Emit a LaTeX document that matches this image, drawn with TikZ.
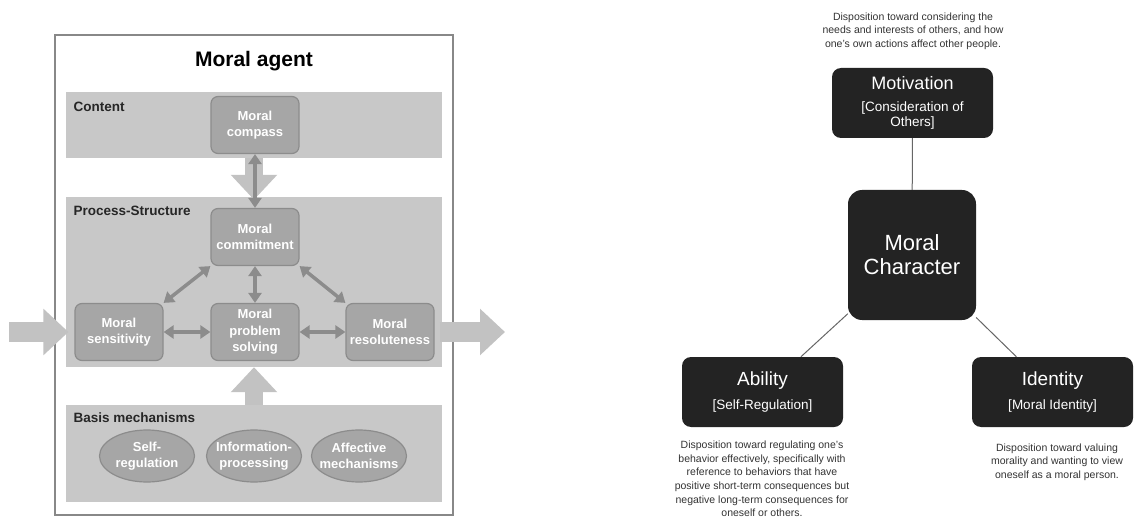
\documentclass[tikz,border=0pt]{standalone}
\usepackage{fontspec}
\setmainfont{Liberation Sans}
\usetikzlibrary{arrows.meta,shapes.geometric}
\definecolor{bandgray}{HTML}{C8C8C8}
\definecolor{boxgray}{HTML}{A6A6A6}
\definecolor{edgegray}{HTML}{8C8C8C}
\definecolor{framegray}{HTML}{888888}
\definecolor{bigarrow}{HTML}{C2C2C2}
\definecolor{darkbox}{HTML}{232323}
\definecolor{desctext}{HTML}{333333}
\tikzset{
  band/.style={fill=bandgray,minimum width=376pt,inner sep=0pt},
  bandlabel/.style={anchor=west,font=\bfseries\fontsize{13.5}{16}\selectfont,text=black!85},
  mbox/.style={draw=edgegray,fill=boxgray,line width=1.2pt,rounded corners=7pt,minimum width=88pt,
    minimum height=57pt,inner sep=1pt,align=center,text=white,font=\bfseries\fontsize{13}{16.5}\selectfont},
  mell/.style={ellipse,draw=edgegray,fill=boxgray,line width=1.2pt,minimum width=95pt,minimum height=52pt,
    inner sep=-9pt,align=center,text=white,font=\bfseries\fontsize{13}{16.5}\selectfont},
  twoway/.style={{Triangle[length=10pt,width=13pt]}-{Triangle[length=10pt,width=13pt]},line width=3.5pt,draw=edgegray},
  bigArrow/.style={-{Triangle[length=25pt,width=45pt]},line width=18pt,draw=bigarrow},
  cbox/.style={fill=darkbox,rounded corners=9pt,text=white,align=center,minimum width=161pt,minimum height=70pt,
    inner sep=0pt,font=\fontsize{13.5}{15}\selectfont},
  desc/.style={align=center,text=desctext,font=\fontsize{10.5}{13.6}\selectfont},
  tie/.style={draw=black!60,line width=1pt}
}

\begin{document}
\begin{tikzpicture}[x=1pt,y=-1pt]
  \useasboundingbox (0,0) rectangle (1139,518);
  % moral agent model
  \node[draw=framegray,line width=2.5pt,minimum width=398pt,minimum height=480pt] (frame) at (254,275) {};
  \node[font=\bfseries\fontsize{21}{24}\selectfont] (title) at (254,61) {Moral agent};
  \node[band,minimum height=66pt] (content) at (254,125) {};
  \node[band,minimum height=170pt] (process) at (254,282) {};
  \node[band,minimum height=97pt] (basis) at (254,453.5) {};
  \node[bandlabel] (lc) at (70,107) {Content};
  \node[bandlabel] (lp) at (70,211) {Process-Structure};
  \node[bandlabel] (lb) at (70,418) {Basis mechanisms};
  \draw[bigArrow] (content.south) -- ([yshift=-3pt]process.north);
  \draw[bigArrow] (basis.north) -- (process.south);
  \node[mbox] (compass) at (255,125) {Moral\\compass};
  \node[mbox] (commit) at (255,237) {Moral\\commitment};
  \node[mbox] (sens) at (119,332) {Moral\\sensitivity};
  \node[mbox] (solve) at (255,332) {Moral\\problem\\solving};
  \node[mbox] (resol) at (390,332) {Moral\\resoluteness};
  \node[mell] (selfreg) at (147,456) {Self-\\regulation};
  \node[mell] (infop) at (254,456) {Information-\\processing};
  \node[mell] (affect) at (359,456) {Affective\\mechanisms};
  \coordinate (in) at (9,332);
  \coordinate (out) at (505,332);
  \draw[bigArrow,line width=20pt] (in) -- ([xshift=-6pt]sens.west);
  \draw[bigArrow,line width=20pt] ([xshift=5pt]resol.east) -- (out);
  \draw[twoway] (compass) -- (commit);
  \draw[twoway] (commit) -- (solve);
  \draw[twoway] (sens.north east) -- (commit.south west);
  \draw[twoway] (commit.south east) -- (resol.north west);
  \draw[twoway] (sens) -- (solve);
  \draw[twoway] (solve) -- (resol);
  % moral character model
  \node[desc] (dmot) at (913,31) {Disposition toward considering the\\needs and interests of others, and how\\one's own actions affect other people.};
  \node[cbox] (mot) at (912.5,103)
    {{\fontsize{18}{20}\selectfont Motivation}\\[7pt][Consideration of\\Others]};
  \node[cbox,minimum width=128pt,minimum height=130pt,rounded corners=14pt,font=\fontsize{22}{24}\selectfont]
    (char) at (912,255) {Moral\\Character};
  \node[cbox] (abil) at (762.5,392)
    {{\fontsize{19}{21}\selectfont Ability}\\[9pt][Self-Regulation]};
  \node[cbox] (iden) at (1052.5,392)
    {{\fontsize{19}{21}\selectfont Identity}\\[9pt][Moral Identity]};
  \draw[tie] (mot) -- (char);
  \draw[tie] (char) -- (abil);
  \draw[tie] (char) -- (iden);
  \node[desc] (dabil) at (762,479) {Disposition toward regulating one's\\behavior effectively, specifically with\\reference to behaviors that have\\positive short-term consequences but\\negative long-term consequences for\\oneself or others.};
  \node[desc] (diden) at (1057,462) {Disposition toward valuing\\morality and wanting to view\\oneself as a moral person.};
\end{tikzpicture}
\end{document}
